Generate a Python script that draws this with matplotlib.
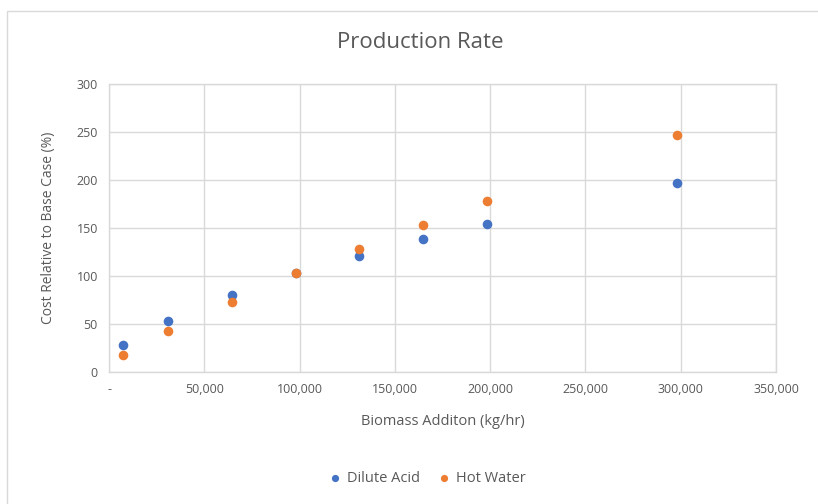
import matplotlib
matplotlib.use("Agg")
import matplotlib.pyplot as plt
from matplotlib.patches import Rectangle
from matplotlib.ticker import FuncFormatter

# Biomass addition rates (kg/hr) and relative cost (%)
biomass = [7500, 30800, 64400, 98200, 131000, 164600, 198200, 298200]
dilute_acid = [28, 53, 80.5, 103, 121.5, 138.5, 155, 197]
hot_water = [17.7, 42.7, 73.5, 103, 128.4, 153, 178.4, 247.5]

x_ticks = [0, 50000, 100000, 150000, 200000, 250000, 300000, 350000]
y_ticks = [0, 50, 100, 150, 200, 250, 300]

BLUE = "#4472C4"
ORANGE = "#ED7D31"
GRID = "#D9D9D9"
TEXT = "#595959"

plt.rcParams["font.family"] = ["Open Sans", "DejaVu Sans"]

fig = plt.figure(figsize=(8.18, 5.04), dpi=100)
fig.patch.set_facecolor("white")

# chart-area frame
fig.patches.append(Rectangle((7 / 818, -0.05), 1.0, 1 - 11 / 504 + 0.05,
                             transform=fig.transFigure, fill=False,
                             edgecolor=GRID, linewidth=1.0))

ax = fig.add_axes([109 / 818, 1 - 372.3 / 504, (776 - 109) / 818, (372.3 - 84.3) / 504])
ax.scatter(biomass, dilute_acid, s=48, color=BLUE, label="Dilute Acid", zorder=3, linewidths=0)
ax.scatter(biomass, hot_water, s=48, color=ORANGE, label="Hot Water", zorder=3, linewidths=0)

ax.set_xlim(0, 350000)
ax.set_ylim(0, 300)
ax.set_xticks(x_ticks)
ax.set_yticks(y_ticks)
ax.xaxis.set_major_formatter(FuncFormatter(lambda v, p: "-" if v == 0 else f"{int(v):,}"))
ax.grid(True, color=GRID, linewidth=1.0)
ax.set_axisbelow(True)
for s in ax.spines.values():
    s.set_color(GRID)
    s.set_linewidth(1.0)
ax.tick_params(length=0, colors=TEXT, labelsize=9, pad=8)

ax.set_xlabel("Biomass Additon (kg/hr)", color=TEXT, fontsize=10.5, labelpad=13)
ax.set_ylabel("Cost Relative to Base Case (%)", color=TEXT, fontsize=10, labelpad=15)
fig.text(420 / 818, 1 - 43 / 504, "Production Rate", ha="center", va="center",
         color=TEXT, fontsize=16)

fig.legend(loc="center", bbox_to_anchor=(423 / 818, 1 - 478 / 504), ncol=2, frameon=False,
           fontsize=10.5, handletextpad=-0.2, columnspacing=0.7, markerscale=0.75,
           labelcolor=TEXT)

fig.savefig("out.png", dpi=100)
